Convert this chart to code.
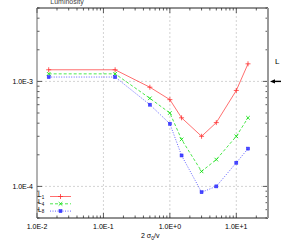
<html lang="en">
  <head>
    <meta charset="UTF-8" />
    <title>Luminosity</title>
    <script src="https://d3js.org/d3.v7.min.js"></script>
    <style>
      * {
        margin: 0;
        padding: 0;
      }
      body {
        background: #fff;
      }
      text {
        font-family: "Liberation Sans", Arial, sans-serif;
      }
    </style>
  </head>
  <body>
    <div id="svgContainer"></div>
    <script>
      // data
      const xValues = [0.015, 0.15, 0.5, 1, 1.5, 3, 5, 10, 15];
      const seriesNames = ["1", "4", "8"];
      const l1 = [1.29e-3, 1.29e-3, 8.8e-4, 6.7e-4, 4.5e-4, 3.0e-4, 4.05e-4, 8.2e-4, 1.47e-3];
      const l4 = [1.18e-3, 1.18e-3, 6.9e-4, 5.0e-4, 2.8e-4, 1.39e-4, 1.8e-4, 3.0e-4, 4.5e-4];
      const l8 = [1.1e-3, 1.1e-3, 6.0e-4, 3.95e-4, 1.97e-4, 8.8e-5, 1.0e-4, 1.68e-4, 2.29e-4];
      const xTicks = [0.01, 0.1, 1, 10];
      const xTickLabels = ["1.0E-2", "1.0E-1", "1.0E+0", "1.0E+1"];
      const yTicks = [1e-3, 1e-4];
      const yTickLabels = ["1.0E-3", "1.0E-4"];
      const refLevel = 1e-3;

      const width = 281,
        height = 249;
      const MARGIN = { left: 37, right: 13, top: 8, bottom: 31 };

      let svg = d3
        .select("#svgContainer")
        .append("svg")
        .attr("width", width)
        .attr("height", height);

      const x = d3
        .scaleLog()
        .domain([0.01, 30])
        .range([MARGIN.left, width - MARGIN.right]);
      const y = d3
        .scaleLog()
        .domain([5e-5, 5e-3])
        .range([height - MARGIN.bottom, MARGIN.top]);

      const x0 = x.range()[0],
        x1 = x.range()[1],
        y0 = y.range()[0],
        y1 = y.range()[1];

      // grid
      let grid = svg.append("g").attr("stroke", "#c8c8c8").attr("stroke-width", 0.8).attr("stroke-dasharray", "2,2");
      xTicks.slice(1).forEach((t) => {
        grid.append("line").attr("x1", x(t)).attr("x2", x(t)).attr("y1", y0).attr("y2", y1);
      });
      yTicks.forEach((t) => {
        grid.append("line").attr("x1", x0).attr("x2", x1).attr("y1", y(t)).attr("y2", y(t));
      });

      // minor + major ticks, inward on all sides
      let ticks = svg.append("g").attr("stroke", "#333").attr("stroke-width", 0.8);
      const xAll = [];
      for (let e = -2; e <= 1; e++) for (let m = 1; m <= 9; m++) xAll.push(m * Math.pow(10, e));
      xAll.filter((v) => v <= 30).forEach((v) => {
        const len = xTicks.includes(v) ? 5 : 2.5;
        ticks.append("line").attr("x1", x(v)).attr("x2", x(v)).attr("y1", y0).attr("y2", y0 - len);
        ticks.append("line").attr("x1", x(v)).attr("x2", x(v)).attr("y1", y1).attr("y2", y1 + len);
      });
      const yAll = [];
      for (let e = -5; e <= -3; e++) for (let m = 1; m <= 9; m++) yAll.push(m * Math.pow(10, e));
      yAll.filter((v) => v >= 5e-5 && v <= 5e-3).forEach((v) => {
        const len = yTicks.some((t) => Math.abs(t - v) < 1e-12) ? 5 : 2.5;
        ticks.append("line").attr("x1", x0).attr("x2", x0 + len).attr("y1", y(v)).attr("y2", y(v));
        ticks.append("line").attr("x1", x1).attr("x2", x1 - len).attr("y1", y(v)).attr("y2", y(v));
      });

      // frame
      svg.append("line").attr("x1", x0).attr("x2", x1).attr("y1", y1).attr("y2", y1).attr("stroke", "#222");
      svg.append("line").attr("x1", x0).attr("x2", x1).attr("y1", y0).attr("y2", y0).attr("stroke", "#222");
      svg.append("line").attr("x1", x0).attr("x2", x0).attr("y1", y0).attr("y2", y1).attr("stroke", "#666");
      svg.append("line").attr("x1", x1).attr("x2", x1).attr("y1", y0).attr("y2", y1).attr("stroke", "#999").attr("stroke-width", 2);

      // tick labels
      svg
        .selectAll("text.xl")
        .data(xTicks)
        .join("text")
        .attr("class", "xl")
        .attr("x", (d) => x(d))
        .attr("y", y0 + 11)
        .attr("text-anchor", "middle")
        .attr("font-size", 7)
        .text((d, i) => xTickLabels[i]);
      svg
        .selectAll("text.yl")
        .data(yTicks)
        .join("text")
        .attr("class", "yl")
        .attr("x", x0 - 4)
        .attr("y", (d) => y(d) + 2.5)
        .attr("text-anchor", "end")
        .attr("font-size", 7)
        .text((d, i) => yTickLabels[i]);

      // title and axis label
      svg.append("text").attr("x", 67).attr("y", 3.5).attr("text-anchor", "middle").attr("font-size", 7).attr("fill", "#444").text("Luminosity");
      let xl = svg.append("text").attr("x", 141).attr("y", 238).attr("font-size", 7);
      xl.append("tspan").text("2 σ");
      xl.append("tspan").attr("font-size", 5).attr("dy", 1.5).text("0");
      xl.append("tspan").attr("dy", -1.5).text("/v");

      // reference "L" with arrow
      svg.append("text").attr("x", 275).attr("y", 64).attr("font-size", 8).text("L");
      svg
        .append("path")
        .attr("d", `M270,${y(refLevel)} l5,-2.2 v4.4 z`)
        .attr("fill", "#000");
      svg
        .append("line")
        .attr("x1", 282)
        .attr("x2", 274)
        .attr("y1", y(refLevel))
        .attr("y2", y(refLevel))
        .attr("stroke", "#000")
        .attr("stroke-width", 1.4);

      // series
      const series = [
        { name: seriesNames[0], values: l1, color: "#ff3030", dash: null, mark: "plus" },
        { name: seriesNames[1], values: l4, color: "#00dd00", dash: "3,2", mark: "cross" },
        { name: seriesNames[2], values: l8, color: "#2020ff", dash: "1,1.5", mark: "square" },
      ];
      const line = d3
        .line()
        .x((d) => x(d[0]))
        .y((d) => y(d[1]));

      function drawMark(g, mark, cx, cy, color) {
        if (mark === "plus") {
          g.append("path").attr("d", `M${cx - 2.5},${cy}h5M${cx},${cy - 2.5}v5`).attr("stroke", color).attr("stroke-width", 0.8);
        } else if (mark === "cross") {
          g.append("path").attr("d", `M${cx - 1.8},${cy - 1.8}l3.6,3.6M${cx - 1.8},${cy + 1.8}l3.6,-3.6`).attr("stroke", color).attr("stroke-width", 0.8);
        } else {
          g.append("rect").attr("x", cx - 1.5).attr("y", cy - 1.5).attr("width", 3).attr("height", 3).attr("fill", color).attr("fill-opacity", 0.8).attr("stroke", color).attr("stroke-width", 0.5);
        }
      }

      series.forEach((s) => {
        const pts = xValues.map((v, i) => [v, s.values[i]]);
        svg
          .append("path")
          .attr("d", line(pts))
          .attr("fill", "none")
          .attr("stroke", s.color)
          .attr("stroke-width", 0.7)
          .attr("stroke-dasharray", s.dash);
        let g = svg.append("g");
        pts.forEach((p) => drawMark(g, s.mark, x(p[0]), y(p[1]), s.color));
      });

      // legend
      series.forEach((s, i) => {
        const ly = 196.5 + i * 7.3;
        let t = svg.append("text").attr("x", 38).attr("y", ly + 0.5).attr("font-size", 6.5);
        t.append("tspan").text("L");
        t.append("tspan").attr("font-size", 4.5).attr("dy", 1.5).text(s.name);
        svg
          .append("line")
          .attr("x1", 50)
          .attr("x2", 71)
          .attr("y1", ly)
          .attr("y2", ly)
          .attr("stroke", s.color)
          .attr("stroke-width", 0.7)
          .attr("stroke-dasharray", s.dash);
        drawMark(svg, s.mark, 60.5, ly, s.color);
      });
    </script>
  </body>
</html>
